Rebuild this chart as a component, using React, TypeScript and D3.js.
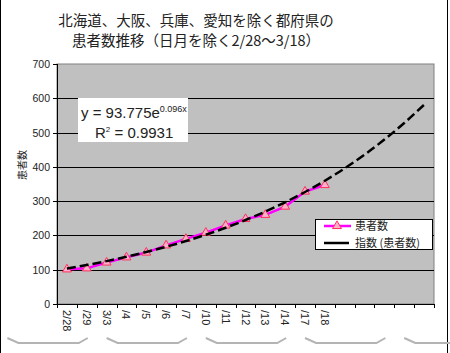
import React from 'react';
import * as d3 from 'd3';

// chart data
const categories = ['2/28', '/29', '3/3', '/4', '/5', '/6', '/7', '/10', '/11', '/12', '/13', '/14', '/17', '/18', '', '', '', '', ''];
const patients = [101, 104, 121, 136, 150, 171, 190, 208, 229, 248, 260, 284, 328, 347];
// exponential trendline as printed on the chart: y = 93.775 e^(0.096x)
const trendA = 93.775;
const trendB = 0.096;
const yTicks = [0, 100, 200, 300, 400, 500, 600, 700];
// week groups (5 business days each) marked with a brace under the labels
const weekStarts = [-3, 2, 7, 12, 17];
const titleLines = ['北海道、大阪、兵庫、愛知を除く都府県の', '患者数推移（日月を除く2/28〜3/18）'];
const legendNames = ['患者数', '指数 (患者数)'];

const W = 450;
const H = 353;
const plot = { left: 57, right: 434, top: 64, bottom: 304 };
const jp = '"Noto Sans CJK JP", "Liberation Sans", sans-serif';
const num = '"Liberation Sans", Arial, sans-serif';

export default function App() {
  const x = d3.scaleBand<number>()
    .domain(categories.map((_, i) => i))
    .range([plot.left, plot.right]);
  const step = x.step();
  const cx = (i: number) => plot.left + step * (i + 0.5);

  const y = d3.scaleLinear().domain([0, 700]).range([plot.bottom, plot.top]);

  const trend = categories.map((_, i) => trendA * Math.exp(trendB * (i + 1)));

  const line = d3.line<number>()
    .x((_, i) => cx(i))
    .y(d => y(d));
  const smooth = d3.line<number>()
    .x((_, i) => cx(i))
    .y(d => y(d))
    .curve(d3.curveMonotoneX);

  const tri = d3.symbol().type(d3.symbolTriangle).size(34)();

  return (
    <div style={{ position: 'absolute', left: 0, top: 0 }}>
      <svg width={W} height={H} style={{ display: 'block', background: '#fff' }}>
        {/* outer frame edges */}
        <line x1={0.5} x2={0.5} y1={0} y2={H} stroke="#000" />
        <line x1={447.5} x2={447.5} y1={0} y2={H} stroke="#000" />

        {/* title */}
        {titleLines.map((t, i) => (
          <text key={i} x={196} y={26 + i * 20} textAnchor="middle" fontFamily={jp} fontSize={14.5} fill="#222">{t}</text>
        ))}

        {/* plot area */}
        <rect x={plot.left} y={plot.top} width={plot.right - plot.left} height={plot.bottom - plot.top} fill="#c0c0c0" stroke="#808080" />
        {yTicks.filter(t => t > 0 && t < 700).map(t => (
          <line key={t} x1={plot.left} x2={plot.right} y1={Math.round(y(t)) + 0.5} y2={Math.round(y(t)) + 0.5} stroke="#000" />
        ))}

        {/* axes */}
        <line x1={plot.left + 0.5} x2={plot.left + 0.5} y1={plot.top} y2={plot.bottom} stroke="#000" />
        <line x1={plot.left} x2={plot.right} y1={plot.bottom + 0.5} y2={plot.bottom + 0.5} stroke="#000" />
        {yTicks.map(t => (
          <g key={t}>
            <line x1={plot.left - 4} x2={plot.left} y1={Math.round(y(t)) + 0.5} y2={Math.round(y(t)) + 0.5} stroke="#000" />
            <text x={50} y={y(t) + 4} textAnchor="end" fontFamily={num} fontSize={10.5} fill="#222">{t}</text>
          </g>
        ))}
        {d3.range(categories.length + 1).map(i => (
          <line key={i} x1={Math.round(plot.left + step * i) + 0.5} x2={Math.round(plot.left + step * i) + 0.5} y1={plot.bottom} y2={plot.bottom + 4} stroke="#000" />
        ))}
        {categories.map((c, i) => c && (
          <text key={i} transform={`translate(${cx(i) - 4},${310}) rotate(90)`} fontFamily={num} fontSize={11} fill="#222">{c}</text>
        ))}
        <text transform={`translate(26,165) rotate(-90)`} textAnchor="middle" fontFamily={jp} fontSize={10} fill="#222">患者数</text>

        {/* week braces */}
        {weekStarts.map(s => {
          const x0 = cx(s);
          const x1 = cx(s + 4);
          const d = `M${x0},338 L${x0 + 11},343 L${x1 - 8},343 L${x1 + 1},338`;
          return <path key={s} d={d} fill="none" stroke="#b4b4b4" strokeWidth={2} />;
        })}

        {/* series */}
        <path d={line(patients) || ''} fill="none" stroke="#ff00ff" strokeWidth={2.5} />
        {patients.map((v, i) => (
          <path key={i} d={tri || ''} transform={`translate(${cx(i)},${y(v)})`} fill="#ffb0c8" stroke="#ff3060" strokeWidth={1} />
        ))}
        <path d={smooth(trend) || ''} fill="none" stroke="#000" strokeWidth={2.5} strokeDasharray="9,4" />

        {/* equation box */}
        <rect x={78} y={98} width={110} height={44} fill="#fff" />
        <text x={81} y={118} fontFamily={num} fontSize={15} fill="#222">
          y = 93.775e<tspan dy={-6} fontSize={9}>0.096x</tspan>
        </text>
        <text x={95} y={138} fontFamily={num} fontSize={15} fill="#222">
          R<tspan dy={-6} fontSize={8}>2</tspan><tspan dy={6}> = 0.9931</tspan>
        </text>

        {/* legend */}
        <rect x={315.5} y={219.5} width={117} height={30} fill="#fff" stroke="#000" />
        <line x1={324} x2={351} y1={226} y2={226} stroke="#ff00ff" strokeWidth={2.5} />
        <path d={tri || ''} transform="translate(337,226)" fill="#ffb0c8" stroke="#ff3060" />
        <text x={355} y={230} fontFamily={jp} fontSize={11} fill="#222">{legendNames[0]}</text>
        <line x1={324} x2={349} y1={243} y2={243} stroke="#000" strokeWidth={2.5} />
        <text x={355} y={247} fontFamily={jp} fontSize={11} fill="#222">{legendNames[1]}</text>
      </svg>
    </div>
  );
}
